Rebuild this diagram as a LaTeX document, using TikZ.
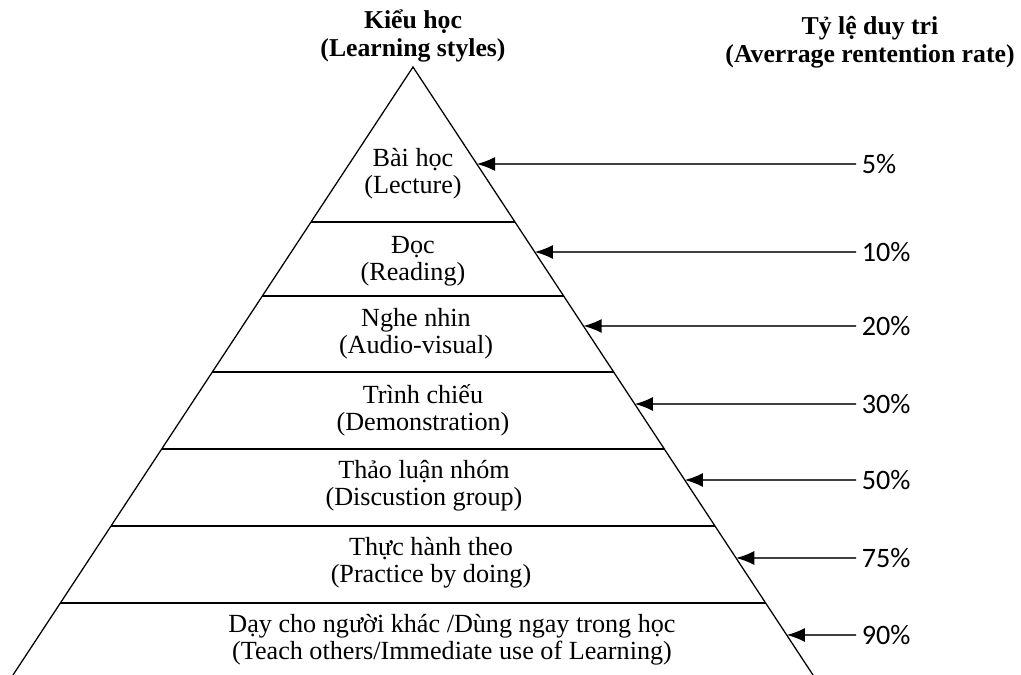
\documentclass[tikz,border=0pt]{standalone}
\usepackage{fontspec}
\setmainfont{Liberation Serif}
\newfontfamily\pctfont{Carlito}
\usetikzlibrary{arrows.meta, calc, positioning}

\begin{document}
\begin{tikzpicture}[x=0.025cm,y=-0.025cm,
 level/.style={align=center, inner sep=0pt, font=\fontsize{18.6}{19.3}\selectfont},
 head/.style={align=center, inner sep=0pt, font=\fontsize{18.3}{20}\selectfont\bfseries},
 rate/.style={anchor=west, inner xsep=4pt, inner ysep=1pt, font=\fontsize{20}{22}\selectfont\pctfont},
 side/.style={line width=0.9pt},
 cut/.style={line width=1.3pt},
 feed/.style={line width=1.1pt, black!75, -{Latex[length=13pt,width=10pt,black]}}]
  \useasboundingbox (0,0) rectangle (1021,675);
  \coordinate (apex) at (413,67);
  \coordinate (bl) at (13,675);
  \coordinate (br) at (813,675);
  \draw[side] (bl) -- (apex) -- (br);

  \foreach \y in {222,296,372,449,526,603} {
   \pgfmathsetmacro\t{(\y-67)/608}
   \draw[cut] ($(apex)!\t!(bl)$) -- ($(apex)!\t!(br)$);}

  \node[head] (styles) at (413,36) {Kiểu học\\(Learning styles)};
  \node[head] (rates) at (870,42) {Tỷ lệ duy tri\\(Averrage rentention rate)};

  \node[level] (l1) at (413,174) {Bài học\\(Lecture)};
  \node[level] (l2) at (413,261) {Đọc\\(Reading)};
  \node[level] (l3) at (416,334) {Nghe nhin\\(Audio-visual)};
  \node[level] (l4) at (423,410) {Trình chiếu\\(Demonstration)};
  \node[level] (l5) at (424,486) {Thảo luận nhóm\\(Discustion group)};
  \node[level] (l6) at (431,563) {Thực hành theo\\(Practice by doing)};
  \node[level] (l7) at (452,640) {Dạy cho người khác /Dùng ngay trong học\\(Teach others/Immediate use of Learning)};

  \foreach \p/\y in {5/164, 10/252, 20/326, 30/404, 50/480, 75/558, 90/635} {
   \pgfmathsetmacro\t{(\y-67)/608}
   \node[rate] (r\p) at (856,\y) {\p\%};
   \draw[feed] (r\p.west) -- ($(apex)!\t!(br)$);}
\end{tikzpicture}
\end{document}
